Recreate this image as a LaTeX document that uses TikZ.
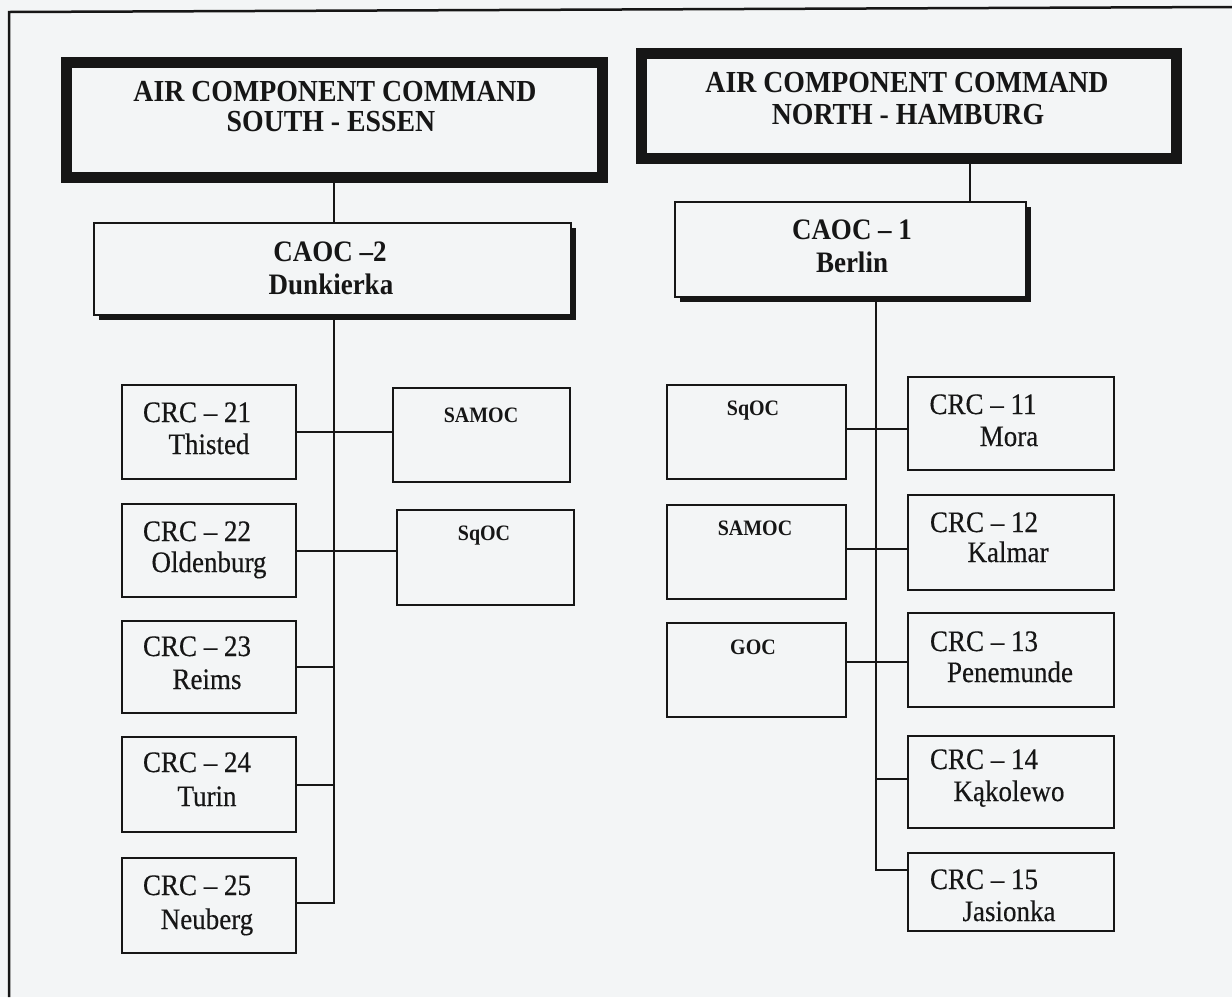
\documentclass[tikz,border=0pt]{standalone}
\usepackage{fontspec}
\setmainfont{Liberation Serif}
\newfontfamily\scanreg{Liberation Serif}[FakeBold=0.4]
\usetikzlibrary{shadows}
\definecolor{paper}{RGB}{243,245,246}
\definecolor{ink}{RGB}{22,22,22}
\newcommand\vstretch[1]{\scalebox{1}[1.1]{#1}}
\begin{document}
\begin{tikzpicture}[x=1pt,y=-1pt,
  box/.style={rectangle, draw=ink, line width=2.4pt, fill=paper, inner sep=0pt, outer sep=0pt},
  accbox/.style={box, line width=11pt, drop shadow={shadow xshift=3pt, shadow yshift=-3pt, fill=ink, opacity=1, shadow scale=1}},
  caocbox/.style={box, line width=2.5pt, drop shadow={shadow xshift=5pt, shadow yshift=-5pt, fill=ink, opacity=1, shadow scale=1}},
  conn/.style={draw=ink, line width=2pt},
  reg/.style={anchor=base, inner sep=0pt, text=ink, font=\fontsize{27}{30}\scanreg},
  bld/.style={anchor=base, inner sep=0pt, text=ink, font=\fontsize{27}{30}\selectfont\bfseries},
  title/.style={anchor=base, inner sep=0pt, text=ink, font=\fontsize{27.8}{30}\selectfont\bfseries},
  sml/.style={anchor=base, inner sep=0pt, text=ink, font=\fontsize{20}{24}\selectfont\bfseries}]
\useasboundingbox (0,0) rectangle (1232,997);
\fill[paper] (0,0) rectangle (1232,997);
% outer frame
\draw[ink, line width=2.5pt] (1232,7) -- (9,12) -- (9,997);

% top commands
\node[accbox, minimum width=536pt, minimum height=115pt] (accS) at (334.5,120) {};
\node[accbox, minimum width=535pt, minimum height=105pt] (accN) at (909,106) {};
\node[title] (accS1) at (335,101) {\vstretch{AIR COMPONENT COMMAND}};
\node[title] (accS2) at (331,131) {\vstretch{SOUTH - ESSEN}};
\node[title] (accN1) at (907,92) {\vstretch{AIR COMPONENT COMMAND}};
\node[title] (accN2) at (908,124) {\vstretch{NORTH - HAMBURG}};

% CAOCs
\node[caocbox, minimum width=477pt, minimum height=92pt] (caoc2) at (332.5,269) {};
\node[bld] (caoc2a) at (330,261) {\vstretch{CAOC –2}};
\node[bld] (caoc2b) at (331,294) {\vstretch{Dunkierka}};
\node[caocbox, minimum width=351pt, minimum height=95pt] (caoc1) at (850.5,249.5) {};
\node[bld] (caoc1a) at (852,239) {\vstretch{CAOC – 1}};
\node[bld] (caoc1b) at (852,272) {\vstretch{Berlin}};

% left CRC column
\node[box, minimum width=174pt, minimum height=94pt] (crc21) at (209,432) {};
\node[box, minimum width=174pt, minimum height=93pt] (crc22) at (209,550.5) {};
\node[box, minimum width=174pt, minimum height=92pt] (crc23) at (209,667) {};
\node[box, minimum width=174pt, minimum height=95pt] (crc24) at (209,784.5) {};
\node[box, minimum width=174pt, minimum height=95pt] (crc25) at (209,905.5) {};
\node[reg] (t21a) at (197,422) {\vstretch{CRC – 21}};
\node[reg] (t21b) at (209,454) {\vstretch{Thisted}};
\node[reg] (t22a) at (197,541) {\vstretch{CRC – 22}};
\node[reg] (t22b) at (209,572) {\vstretch{Oldenburg}};
\node[reg] (t23a) at (197,656) {\vstretch{CRC – 23}};
\node[reg] (t23b) at (207,689) {\vstretch{Reims}};
\node[reg] (t24a) at (197,772) {\vstretch{CRC – 24}};
\node[reg] (t24b) at (207,806) {\vstretch{Turin}};
\node[reg] (t25a) at (197,895) {\vstretch{CRC – 25}};
\node[reg] (t25b) at (207,929) {\vstretch{Neuberg}};

% left middle
\node[box, minimum width=177pt, minimum height=94pt] (samocL) at (481.5,435) {};
\node[sml] (tsamocL) at (481,422) {\vstretch{SAMOC}};
\node[box, minimum width=177pt, minimum height=95pt] (sqocL) at (485.5,557.5) {};
\node[sml] (tsqocL) at (484,540) {\vstretch{SqOC}};

% right middle
\node[box, minimum width=179pt, minimum height=94pt] (sqocR) at (756.5,432) {};
\node[sml] (tsqocR) at (753,415) {\vstretch{SqOC}};
\node[box, minimum width=179pt, minimum height=94pt] (samocR) at (756.5,552) {};
\node[sml] (tsamocR) at (755,535) {\vstretch{SAMOC}};
\node[box, minimum width=179pt, minimum height=94pt] (gocR) at (756.5,670) {};
\node[sml] (tgocR) at (753,654) {\vstretch{GOC}};

% right CRC column
\node[box, minimum width=206pt, minimum height=93pt] (crc11) at (1011,423.5) {};
\node[box, minimum width=206pt, minimum height=95pt] (crc12) at (1011,542.5) {};
\node[box, minimum width=206pt, minimum height=94pt] (crc13) at (1011,660) {};
\node[box, minimum width=206pt, minimum height=92pt] (crc14) at (1011,782) {};
\node[box, minimum width=206pt, minimum height=78pt] (crc15) at (1011,892) {};
\node[reg] (t11a) at (983,414) {\vstretch{CRC – 11}};
\node[reg] (t11b) at (1009,446) {\vstretch{Mora}};
\node[reg] (t12a) at (984,532) {\vstretch{CRC – 12}};
\node[reg] (t12b) at (1008,562) {\vstretch{Kalmar}};
\node[reg] (t13a) at (984,651) {\vstretch{CRC – 13}};
\node[reg] (t13b) at (1010,682) {\vstretch{Penemunde}};
\node[reg] (t14a) at (984,769) {\vstretch{CRC – 14}};
\node[reg] (t14b) at (1009,801) {\vstretch{Kąkolewo}};
\node[reg] (t15a) at (984,889) {\vstretch{CRC – 15}};
\node[reg] (t15b) at (1009,921) {\vstretch{Jasionka}};

% connector helpers
\coordinate (busL) at (334,0);
\coordinate (busR) at (876,0);
\coordinate (nx) at (970,0);
\coordinate (c11) at ([yshift=3pt]sqocR.east);
\coordinate (c12) at ([yshift=3pt]samocR.east);
\coordinate (c13) at ([yshift=8pt]gocR.east);
\coordinate (c14) at ([yshift=3pt]crc14.west);
\coordinate (c15) at ([yshift=22pt]crc15.west);
\coordinate (c25) at ([yshift=3pt]crc25.east);

% left connectors
\draw[conn] (accS.south -| busL) -- (caoc2.north -| busL);
\draw[conn] (caoc2.south -| busL) -- (c25 -| busL) -- (c25);
\draw[conn] (crc21.east) -- (crc21.east -| samocL.west);
\draw[conn] (crc22.east) -- (crc22.east -| sqocL.west);
\draw[conn] (crc23.east) -- (crc23.east -| busL);
\draw[conn] (crc24.east) -- (crc24.east -| busL);

% right connectors
\draw[conn] (accN.south -| nx) -- (caoc1.north -| nx);
\draw[conn] (caoc1.south -| busR) -- (c15 -| busR) -- (c15);
\draw[conn] (c11) -- (c11 -| crc11.west);
\draw[conn] (c12) -- (c12 -| crc12.west);
\draw[conn] (c13) -- (c13 -| crc13.west);
\draw[conn] (c14 -| busR) -- (c14);
\end{tikzpicture}
\end{document}
